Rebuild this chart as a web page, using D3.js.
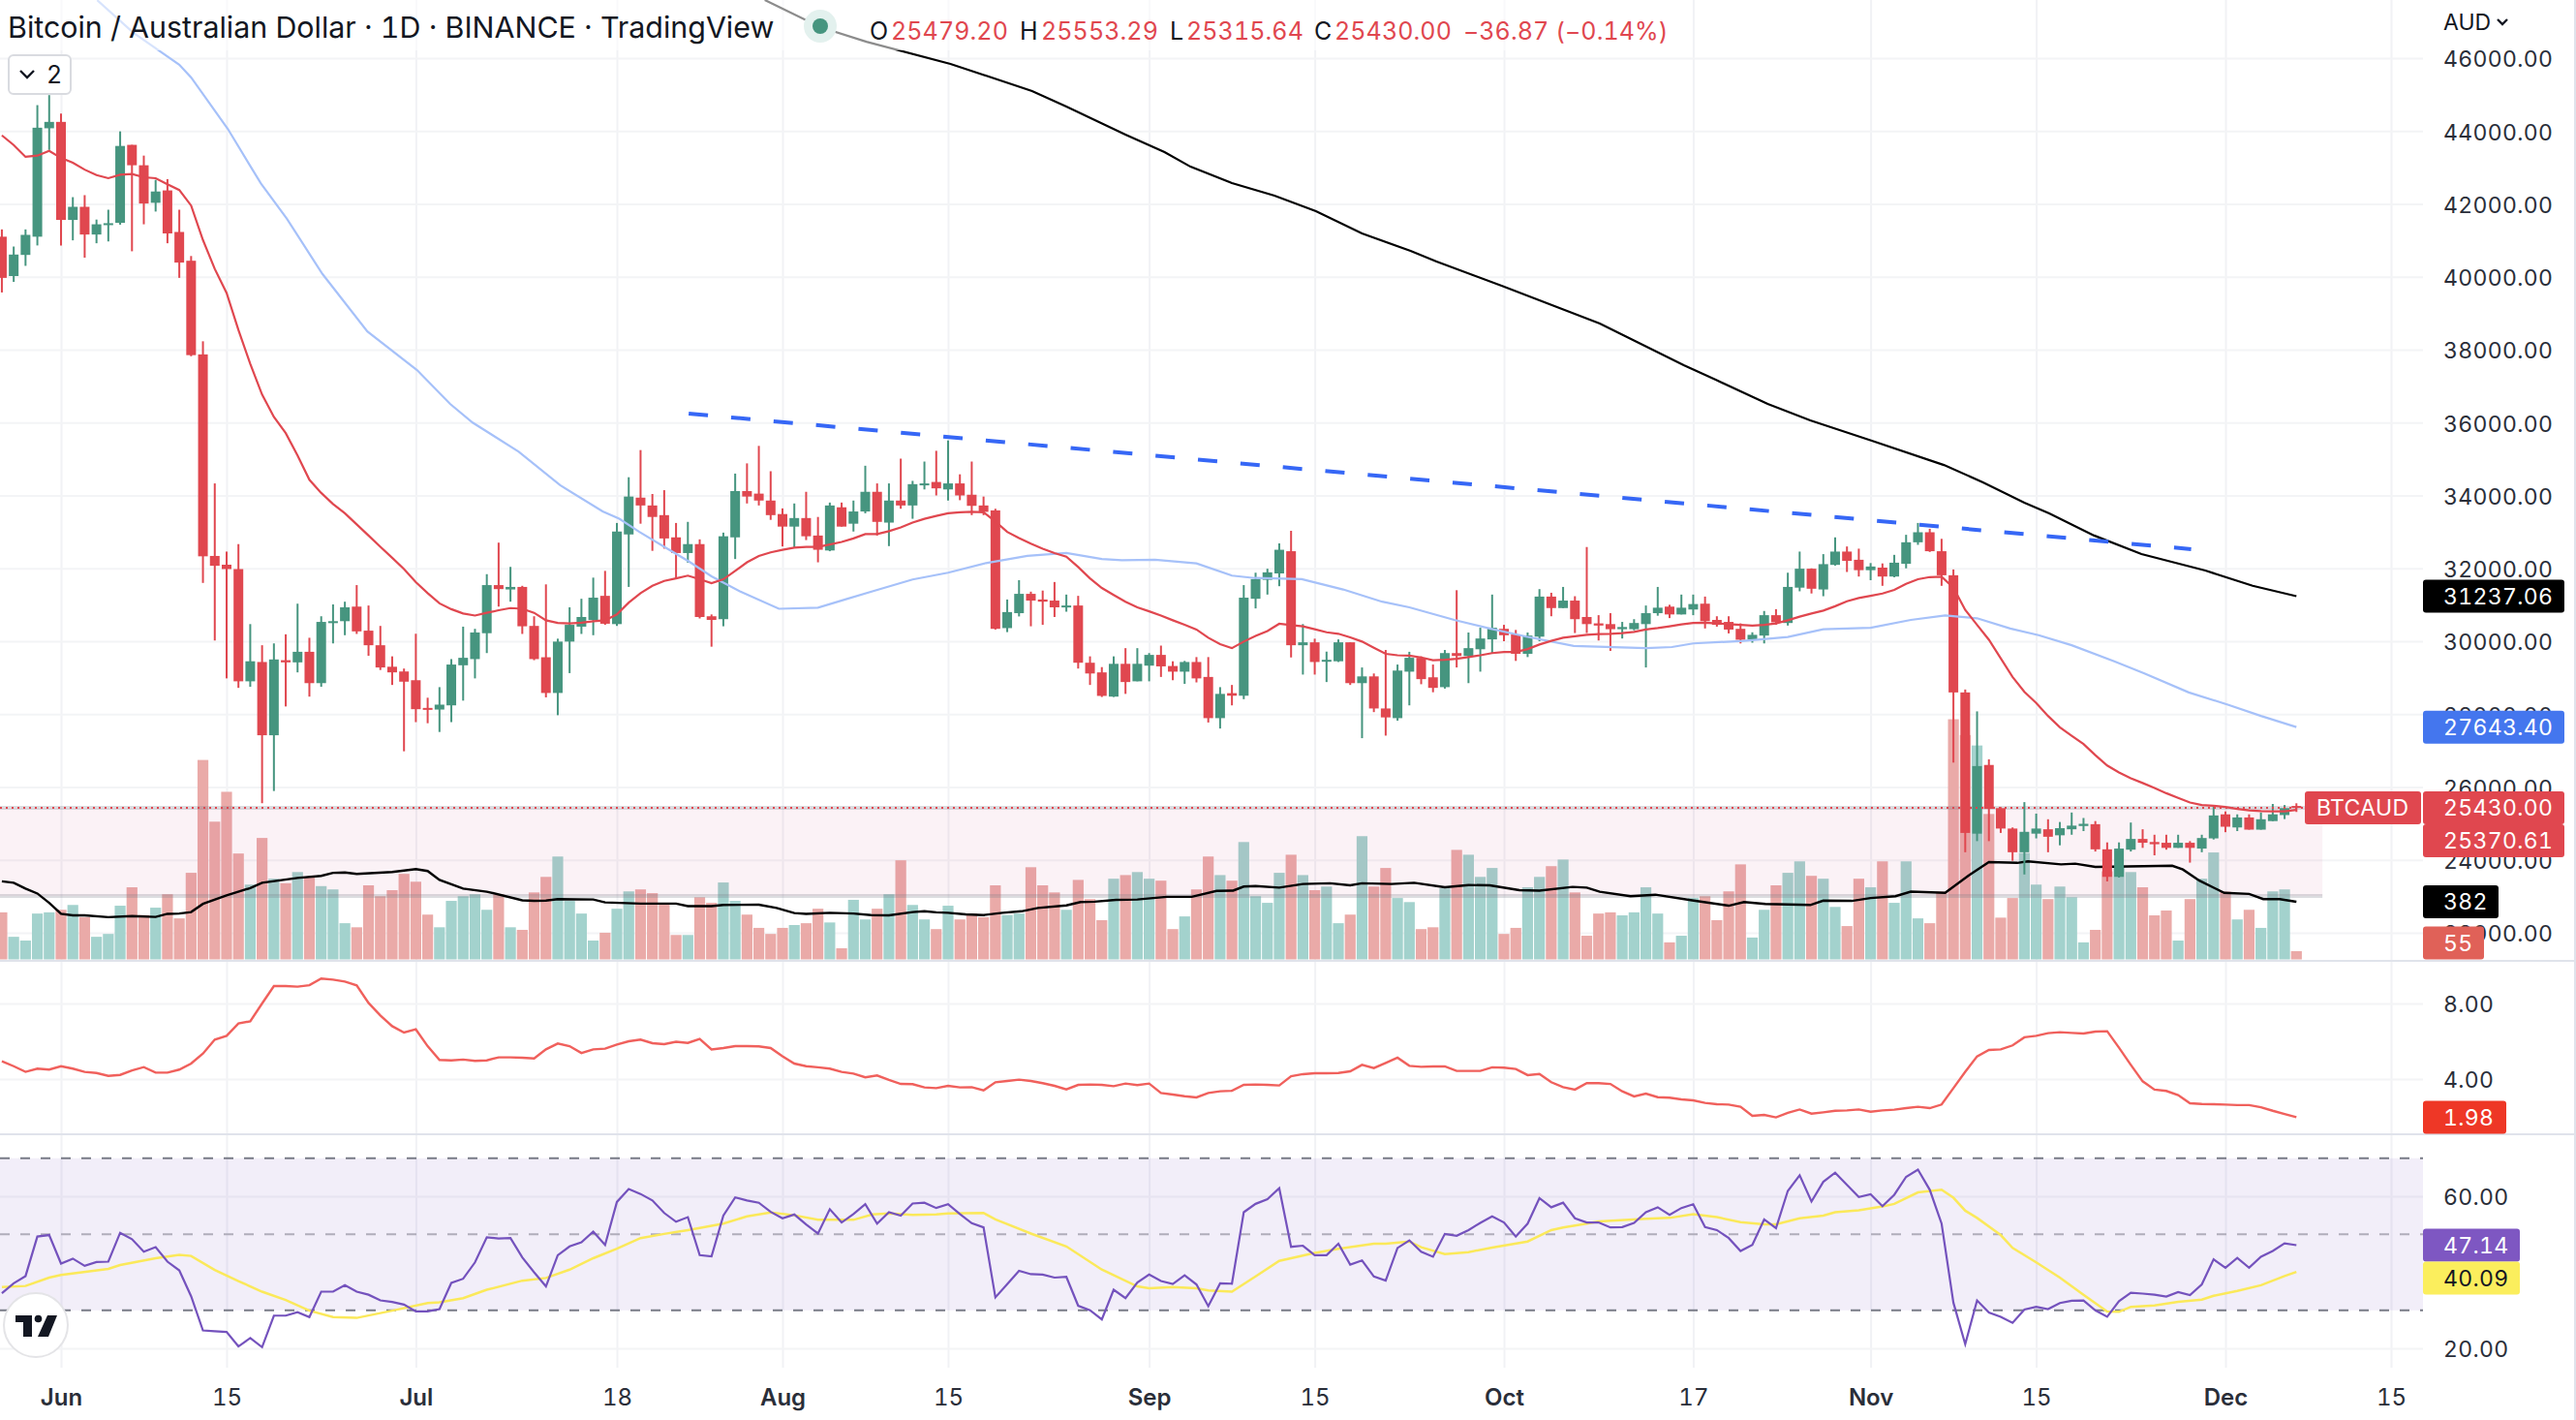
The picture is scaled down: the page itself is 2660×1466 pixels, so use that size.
<!DOCTYPE html>
<html>
<head>
<meta charset="utf-8">
<script src="https://cdn.jsdelivr.net/npm/d3@7"></script>
<style>
  html, body { margin: 0; padding: 0; background: #fff; }
  svg { display: block; font-family: Inter, "Liberation Sans", sans-serif; font-variant-numeric: tabular-nums; }
  .axis text { font-family: Inter, "Liberation Sans", sans-serif; fill: #2a2e39; }
  .axis path { display: none; }
</style>
</head>
<body>
<svg id="chart" width="2660" height="1466"></svg>
<script>
// first candle sits 5 days before 1 Jun, one value per day after that
const firstDay = -5;

const opens = [
  41100,40020,40600,41100,44075,44250,41560,41920,41160,41430,
  41480,43620,43060,42030,42370,41230,40440,37870,32340,32100,
  31980,28900,29430,27420,29480,29420,29710,28850,30500,30550,
  30950,30290,29890,29300,29170,28930,28170,28125,28240,29340,
  29510,30220,31540,31420,31490,30420,29560,28580,29990,30400,
  30585,31245,30470,32930,33940,33725,33460,32850,32420,32665,
  30685,30605,32850,34120,34050,33860,33490,33145,33380,32900,
  32490,33675,33225,33560,34100,33255,33860,33725,34290,34370,
  34165,34330,34020,33725,33590,30360,30770,31300,31145,31115,
  30930,30980,29410,29145,28480,29380,28900,29330,29625,29320,
  29165,29430,29020,27890,28575,28505,31165,31685,31860,32470,
  29890,29970,29440,29450,29970,28850,29035,28155,27890,29165,
  29545,29010,28740,29675,29595,29780,30050,30340,30185,29655,
  30125,31225,30910,31115,30665,30490,30470,30330,30330,30470,
  30770,30950,30735,30870,31030,30585,30530,30340,30040,30155,
  30715,30500,31470,31990,31420,32095,32460,32235,31950,32020,
  31775,32125,32715,32990,32470,31810,28595,24720,26605,25420,
  24860,24210,24720,24840,24675,24840,24930,24980,24290,23535,
  24280,24575,24490,24470,24330,24470,24310,24590,25250,24890,
  25165,24830,25065,25230,25479.2
];
const closes = [
  39970,40610,41150,44090,44250,41560,41920,41160,41440,41470,
  43590,43060,42010,42340,41190,40390,37850,32330,32070,31980,
  28900,29450,27420,29500,29420,29710,28850,30530,30550,30930,
  30270,29890,29280,29145,28890,28135,28120,28260,29360,29545,
  30240,31540,31430,31490,30410,29510,28580,29990,30450,30665,
  31195,30480,33010,33970,33725,33410,32820,32420,32665,30665,
  30585,32880,34120,33970,33860,33460,33145,33380,32880,32510,
  33725,33145,33560,34100,33275,33860,33725,34310,34330,34195,
  34330,34000,33715,33550,30340,30800,31300,31115,31085,30930,
  30980,29410,29115,28500,29380,28880,29380,29625,29310,29165,
  29430,28980,27890,28555,28505,31195,31705,31890,32510,29890,
  29970,29430,29490,29970,28850,29035,28155,27910,29195,29545,
  28960,28720,29675,29595,29810,30075,30370,30165,29655,30155,
  31225,30910,31115,30605,30470,30430,30330,30390,30500,30770,
  30920,30735,30920,31020,30550,30450,30320,30040,30175,30715,
  30520,31490,31990,31440,32115,32460,32205,31950,32050,31775,
  32155,32715,32990,32470,31810,28595,24740,26575,25400,24860,
  24210,24770,24860,24635,24870,24940,24990,24290,23535,24310,
  24575,24470,24430,24330,24470,24330,24600,25220,24910,25165,
  24830,25115,25250,25420,25430
];
const highs = [
  41300,40830,41300,44710,44985,44480,42185,42240,41570,41840,
  43990,43620,43325,42660,42680,41840,40570,38230,34330,32460,
  32665,30470,29890,29940,30190,31030,30095,30685,31010,31085,
  31540,30980,30420,29585,29250,30205,28450,28740,29510,30400,
  30340,31840,32705,32040,31520,30685,31560,30070,30930,31165,
  31745,31930,33245,34500,35245,34040,34145,33245,33275,32795,
  30735,32980,34600,34880,35360,34665,33645,33780,34100,33410,
  33805,33805,33860,34815,34330,34330,35010,34400,34930,35225,
  35510,34580,34930,33970,33635,31145,31675,31360,31390,31625,
  31280,31245,29585,29290,29585,29810,29810,29675,29880,29450,
  29460,29565,29565,28740,28800,31540,31880,31990,32685,33030,
  30470,30070,29715,30050,29970,29280,29115,29760,29360,29710,
  29585,29360,29760,31400,30240,30370,31280,30450,30310,30240,
  31430,31330,31490,31235,32585,30715,30770,30530,30605,30980,
  31490,31000,31280,31280,31225,30685,30685,30490,30245,30830,
  30880,31880,32460,32000,32390,32850,32600,32540,32145,32135,
  32370,32920,33245,33085,32810,31970,28675,28075,26760,25450,
  24890,25585,25270,25115,25040,25300,25150,25065,24480,24480,
  25025,24840,24690,24690,24690,24515,24690,25505,25330,25250,
  25250,25300,25535,25505,25553.29
];
const lows = [
  39570,39860,40300,40860,43480,40860,41000,40525,40920,40970,
  41430,40700,41440,41790,40920,39970,37820,31600,30020,28980,
  28720,28750,25555,25890,28210,29145,28480,28750,29940,30165,
  30200,29600,29210,28800,26980,27780,27750,27510,27780,28370,
  28980,29675,30950,31085,30200,29480,28460,27970,29125,30200,
  30165,30450,30420,31490,33225,32480,32540,31725,32155,30625,
  29850,30410,32255,33780,33725,33330,32600,32560,32775,32165,
  32470,33145,33010,33510,32900,32610,33635,33360,34165,34000,
  33860,33870,33460,33460,30320,30250,30680,30410,30450,30665,
  30810,29250,28800,28470,28470,28555,28900,28900,29020,28930,
  28830,28870,27770,27605,28240,28410,30900,31280,31510,29555,
  29085,29085,28880,29430,28800,27340,28055,27410,27820,28240,
  28820,28600,28700,29280,28850,29165,29675,30000,29460,29565,
  30000,30685,30910,30225,30225,30020,29735,30075,30300,29280,
  30700,30635,30735,30715,30350,30400,30215,29940,29960,29940,
  30450,30430,31370,31310,31235,32075,31900,31775,31675,31520,
  31755,32000,32645,32450,31520,26670,24210,24515,24515,24740,
  23975,23600,24590,24210,24400,24690,24790,24230,23410,23515,
  24230,24330,24125,24280,24330,23925,24210,24560,24760,24790,
  24830,24830,25065,25120,25315.64
];
const volumes = [
  312,150,125,304,312,329,361,280,150,169,
  356,478,294,343,432,272,574,1322,913,1111,
  702,496,805,535,505,579,542,486,464,240,
  213,491,419,459,567,515,297,213,388,419,
  432,329,432,213,196,444,547,682,388,304,
  125,177,336,451,464,439,365,162,162,412,
  375,510,388,297,209,169,209,228,240,336,
  245,74,395,265,336,432,657,361,265,201,
  356,265,304,280,491,294,304,611,491,444,
  329,527,400,260,535,559,579,535,522,201,
  285,464,682,559,522,778,419,375,574,694,
  559,459,483,240,297,817,483,606,407,380,
  201,213,471,726,694,547,606,169,209,478,
  547,618,662,444,157,304,312,292,312,478,
  304,113,157,407,419,260,451,630,145,329,
  491,574,650,554,535,348,221,535,478,650,
  375,650,272,240,449,1592,1487,1418,964,277,
  407,706,496,400,483,412,113,196,584,621,
  579,478,292,324,125,400,535,709,449,265,
  329,209,451,464,55
];
const redMa = [
  43880,43615,43290,43325,43455,43260,43130,42940,42790,42705,
  42800,42820,42730,42705,42540,42380,41955,41010,40215,39555,
  38540,37610,36770,36155,35710,35095,34430,34070,33765,33510,
  33205,32900,32590,32290,31980,31620,31320,31040,30880,30760,
  30705,30780,30850,30910,30890,30780,30575,30500,30490,30510,
  30550,30575,30735,31060,31320,31520,31655,31725,31800,31700,
  31595,31700,31930,32165,32340,32440,32510,32570,32590,32590,
  32655,32725,32820,32940,32940,33020,33125,33255,33360,33440,
  33510,33540,33550,33540,33285,33000,32830,32675,32540,32420,
  32320,32035,31725,31460,31270,31085,30930,30820,30705,30575,
  30450,30320,30095,29920,29810,29990,30145,30280,30480,30440,
  30410,30330,30245,30205,30105,29990,29820,29655,29615,29605,
  29555,29480,29490,29520,29565,29615,29675,29705,29705,29785,
  29910,30010,30095,30135,30175,30195,30205,30225,30255,30320,
  30360,30410,30460,30500,30510,30490,30470,30450,30430,30450,
  30490,30575,30675,30760,30840,30960,31095,31185,31245,31310,
  31410,31575,31700,31760,31770,31470,30860,30450,30040,29530,
  29020,28610,28305,27950,27640,27405,27180,26875,26590,26400,
  26240,26110,25975,25830,25700,25575,25505,25485,25450,25400,
  25360,25340,25330,25330,25370.61
];
const atrValues = [
  4.94,4.68,4.38,4.55,4.50,4.68,4.55,4.38,4.32,4.17,
  4.22,4.46,4.63,4.34,4.34,4.50,4.82,5.35,6.09,6.29,
  6.94,7.06,8.0,8.92,8.92,8.89,8.97,9.32,9.26,9.16,
  8.96,8.03,7.37,6.80,6.46,6.63,5.74,5.01,4.99,5.03,
  4.96,4.99,5.15,5.15,5.13,5.09,5.57,5.88,5.74,5.38,
  5.57,5.61,5.83,6.0,6.09,5.90,5.85,5.97,5.91,6.12,
  5.57,5.64,5.74,5.74,5.73,5.64,5.20,4.82,4.68,4.62,
  4.55,4.38,4.29,4.09,4.19,3.95,3.74,3.73,3.56,3.52,
  3.64,3.56,3.57,3.40,3.83,3.90,3.97,3.90,3.78,3.64,
  3.45,3.69,3.71,3.69,3.62,3.76,3.68,3.76,3.26,3.18,
  3.09,3.03,3.26,3.35,3.38,3.69,3.71,3.69,3.66,4.15,
  4.26,4.31,4.31,4.32,4.41,4.75,4.58,4.85,5.13,4.70,
  4.65,4.67,4.67,4.43,4.43,4.43,4.62,4.60,4.53,4.21,
  4.27,3.83,3.57,3.44,3.79,3.78,3.74,3.35,3.08,3.23,
  3.04,3.01,2.92,2.87,2.74,2.67,2.65,2.53,2.05,2.10,
  1.97,2.21,2.39,2.17,2.24,2.32,2.34,2.39,2.27,2.34,
  2.38,2.46,2.53,2.46,2.65,3.52,4.38,5.20,5.54,5.57,
  5.78,6.21,6.29,6.43,6.48,6.44,6.41,6.51,6.53,5.66,
  4.75,3.88,3.44,3.37,3.15,2.72,2.68,2.67,2.65,2.62,
  2.62,2.51,2.32,2.15,1.98
];
const rsiValues = [
  34.5,37.1,39.0,49.4,49.8,42.3,43.6,41.7,42.7,42.8,
  50.4,48.7,45.4,46.6,42.8,40.5,33.7,24.7,24.5,24.3,
  20.5,22.7,20.3,28.6,28.6,29.5,28.2,34.9,34.9,36.6,
  34.9,34.1,32.6,32.2,31.5,29.7,29.7,30.3,37.2,38.3,
  42.6,49.2,48.9,49.0,43.9,40.0,36.3,44.5,46.8,47.9,
  50.7,47.2,58.5,61.9,60.6,58.9,55.6,53.3,54.5,44.5,
  44.2,54.9,59.7,58.9,58.3,55.9,54.2,55.2,52.6,50.2,
  56.6,53.1,55.3,57.9,52.8,55.8,54.9,58.1,58.3,56.9,
  57.9,55.3,52.9,51.8,33.4,36.9,40.4,39.5,39.4,38.6,
  38.8,31.2,30.0,27.6,35.4,33.2,37.3,39.4,37.7,36.9,
  39.2,36.8,31.1,37.1,37.0,55.8,58.0,59.2,62.1,46.7,
  47.0,44.5,44.5,47.5,42.0,43.1,38.9,37.8,46.4,48.4,
  45.4,44.1,50.1,49.6,51.1,53.0,54.7,53.1,49.4,52.8,
  59.5,57.1,58.3,54.2,53.1,53.1,51.8,51.9,53.0,55.8,
  57.1,55.1,56.9,57.9,51.9,51.1,49.0,45.6,47.2,53.9,
  51.6,61.4,65.5,58.6,63.8,66.2,63.0,59.8,60.5,57.4,
  60.4,65.1,67.0,61.7,52.8,32.0,21.1,32.6,29.4,28.3,
  26.7,30.2,30.9,30.3,31.9,32.5,32.6,30.0,28.3,32.4,
  34.6,34.4,34.1,33.6,34.8,34.0,36.8,43.4,41.2,43.8,
  41.2,44.1,45.6,47.6,47.14
];

// the slow lines were read at their bends: [day, value]
const blueMa = [
  [3.06,47590],[6.1,46700],[10,45820],[11,45470],[14.1,44060],[16.9,42560],[19.1,41590],[22.1,40080],[25.9,38500],
  [30.1,37440],[32.9,36510],[34.8,36000],[38.7,35200],[42.2,34280],[45.8,33560],[47.2,33360],[48.9,33000],[51,32590],
  [53.1,32185],[55,31780],[57.4,31370],[60.7,30890],[64,30920],[66.3,31145],[68.6,31370],[72,31695],[75,31880],
  [78.2,32145],[81.7,32340],[85,32420],[88,32255],[89.7,32225],[92.5,32235],[96,32135],[99,31800],[100.9,31735],
  [104.9,31705],[108.4,31420],[111.7,31085],[114,30930],[117.8,30585],[120.8,30350],[123.9,30125],[127.9,29870],
  [134,29810],[136.2,29840],[138,29940],[142.3,30010],[146,30115],[149,30330],[153,30370],[156.4,30585],[159.3,30705],
  [162,30630],[164.8,30350],[167.2,30165],[170,29890],[173.6,29450],[176.1,29125],[179.9,28595],[183.2,28260],
  [186,27950],[189,27643.4]
];
const blackMa = [
  [59.5,47595],[64.2,46850],[68.1,46450],[75.2,45840],[79.9,45335],[82.1,45095],[85,44670],[90,43900],[93.3,43420],
  [95.5,43020],[99,42570],[102.6,42225],[106.1,41800],[110,41190],[114.1,40710],[116.3,40420],[121.8,39755],
  [130.1,38720],[133.9,38105],[137.2,37575],[139.9,37175],[144.3,36510],[147.9,36060],[153.1,35500],[159.2,34835],
  [162.5,34360],[166,33800],[168.1,33510],[171.9,32900],[175.9,32390],[181.3,31940],[185.3,31520],[189,31237.06]
];
const volumeMa = [
  [-5,518],[-4,508],[-3,469],[-2,437],[-1,375],[0,302],[1,292],[2,292],[4,280],[6,287],[8,282],[9,302],[10,304],[11,314],
  [12,368],[14,424],[16,473],[17,508],[20,540],[22,554],[23,574],[24,576],[25,567],[28,579],[30,599],[31,586],[32,527],
  [34,469],[36,449],[39,392],[40,388],[41,390],[42,400],[45,397],[46,378],[49,370],[52,370],[53,353],[55,353],[56,361],
  [59,363],[60.5,341],[62,307],[63,302],[65,309],[67,304],[68.5,294],[70,292],[72,314],[73,319],[74,312],[75,309],
  [76.5,299],[78,294],[79.6,309],[81.2,319],[82.6,341],[85,358],[86.2,380],[87.4,383],[89.2,395],[91,397],[93.5,415],
  [95.6,415],[97.7,454],[99.1,456],[100,483],[101,486],[103,476],[105,500],[107.3,505],[109,491],[110,505],[112.5,500],
  [114.4,508],[117,478],[119,493],[120.8,491],[123.3,459],[125,456],[127.8,481],[129,476],[130.1,449],[132.7,419],
  [134.8,429],[137.9,392],[141,356],[142.3,380],[144.1,368],[147.9,361],[149,390],[151.4,388],[153,407],[155.1,419],
  [156.4,449],[159.3,441],[161.3,557],[163,645],[165.4,640],[166.3,650],[169.1,630],[170.3,635],[172,613],[176.1,618],
  [178.5,621],[179.4,596],[180.8,522],[182.9,441],[185,434],[186.2,400],[187.6,400],[189,382]
];
const rsiMa = [
  [-5,36.1],[-3,36.4],[-1,38.6],[0,39.3],[4,40.9],[5,41.9],[8,43.7],[10,44.6],[11,44.3],[13,40.6],[15,37.7],[17,34.9],
  [19,32.7],[21,29.9],[23,28.2],[25,28.0],[28,29.9],[31,31.9],[32,32.1],[34,33.2],[36,35.4],[39,37.8],[41,38.5],[43,40.7],
  [45,43.7],[47,46.2],[49,49.0],[51,50.1],[53,51.1],[56,52.8],[58,54.7],[60,55.7],[62,55.0],[64,53.8],[67,53.8],[68.6,55.2],
  [70,55.5],[72,55.1],[74,55.2],[75,55.5],[78,55.6],[79,53.9],[82,50.2],[85,46.8],[88,40.7],[91,36.3],[92,35.8],[94,36.1],
  [96,35.8],[97,35.2],[99,34.9],[101,38.9],[103,43.0],[106,45.1],[108,46.2],[111,47.5],[112,47.5],[114,48.1],[115,46.6],
  [117,44.8],[119,45.3],[121,46.5],[124,48.1],[126,51.1],[127,51.8],[129,52.8],[130,53.4],[134,54.1],[136,54.3],[138,55.3],
  [140,54.5],[142,53.2],[144,52.6],[145,52.6],[147,54.2],[149,54.9],[150,55.8],[152,56.3],[154,57.3],[155,58.0],[157,61.0],
  [159,61.7],[160,59.6],[161,56.2],[162,54.3],[164,49.8],[165,46.4],[167,42.6],[169,38.6],[171,34.1],[173,29.7],[174,29.6],
  [175,30.9],[177,31.3],[179,32.2],[181,32.8],[182,33.8],[184,35.1],[186,36.6],[188,39.0],[189,40.09]
];
const trendLine = [[53.07,36246],[180.1,32526]];

const priceTicks = d3.range(22000, 46001, 2000);
const atrTicks = [4, 8];
const rsiTicks = [20, 60];
const rsiBands = [70, 50, 30];
const timeDays = [0,14,30,47,61,75,92,106,122,138,153,167,183,197];
const timeLabels = ["Jun","15","Jul","18","Aug","15","Sep","15","Oct","17","Nov","15","Dec","15"];

const green = "#46957f", red = "#e0474f";
const plotRight = 2502, axisLabelX = 2523, width = 2660;

const x = d3.scaleLinear().domain([0, 197]).range([63, 2469]);
const yPrice = d3.scaleLinear().domain([46000, 22000]).range([60, 963]);
const yVol = d3.scaleLinear().domain([0, 382]).range([990.5, 931]);
const yAtr = d3.scaleLinear().domain([8, 4]).range([1036, 1114]);
const yRsi = d3.scaleLinear().domain([60, 20]).range([1235, 1392]);

const svg = d3.select("#chart");

svg.append("defs").selectAll("clipPath")
  .data([["pricePane", 0, 992], ["atrPane", 992, 179], ["rsiPane", 1171, 241]])
  .join("clipPath").attr("id", d => d[0])
  .append("rect").attr("x", 0).attr("y", d => d[1]).attr("width", plotRight).attr("height", d => d[2]);

// grid first
const vGrid = svg.append("g").call(d3.axisBottom(x).tickValues(timeDays).tickSize(1412).tickFormat(""));
vGrid.select(".domain").remove();
vGrid.selectAll("line").attr("stroke", "#f1f2f5").attr("stroke-width", 2);

function hGrid(scale, ticks) {
  const g = svg.append("g").call(d3.axisRight(scale).tickValues(ticks).tickSize(plotRight).tickFormat(""));
  g.select(".domain").remove();
  g.selectAll("line").attr("stroke", "#f3f4f6").attr("stroke-width", 2);
}
hGrid(yPrice, priceTicks);
hGrid(yAtr, atrTicks);
hGrid(yRsi, rsiTicks);

// rsi pane
const rsiG = svg.append("g").attr("clip-path", "url(#rsiPane)");
rsiG.append("rect")
  .attr("x", 0).attr("width", plotRight)
  .attr("y", yRsi(rsiBands[0])).attr("height", yRsi(rsiBands[2]) - yRsi(rsiBands[0]))
  .attr("fill", "#7e57c2").attr("opacity", 0.1);
rsiG.selectAll("line.band").data(rsiBands).join("line")
  .attr("x1", 0).attr("x2", plotRight)
  .attr("y1", d => yRsi(d)).attr("y2", d => yRsi(d))
  .attr("stroke", d => d === 50 ? "#b0adba" : "#787b86").attr("stroke-width", 2)
  .attr("stroke-dasharray", "10 11");

const dayLine = (scale) => d3.line().x((v, i) => x(firstDay + i)).y(v => scale(v));
const pairLine = (scale) => d3.line().x(d => x(d[0])).y(d => scale(d[1]));

rsiG.append("path").attr("d", pairLine(yRsi)(rsiMa)).attr("fill", "none").attr("stroke", "#fbe95a").attr("stroke-width", 2.5);
rsiG.append("path").attr("d", dayLine(yRsi)(rsiValues)).attr("fill", "none").attr("stroke", "#7452bd").attr("stroke-width", 2.2);

// atr pane
svg.append("g").attr("clip-path", "url(#atrPane)")
  .append("path").attr("d", dayLine(yAtr)(atrValues))
  .attr("fill", "none").attr("stroke", "#f0605c").attr("stroke-width", 2.4);

// price pane
const priceG = svg.append("g").attr("clip-path", "url(#pricePane)");

priceG.append("g").selectAll("rect").data(volumes).join("rect")
  .attr("x", (v, i) => x(firstDay + i) - 5.6)
  .attr("width", 11.2)
  .attr("y", v => yVol(v))
  .attr("height", v => yVol(0) - yVol(v))
  .attr("fill", (v, i) => closes[i] >= opens[i] ? "#a3d2cd" : "#eaaaa8");

// zone behind the last price
const zoneTop = 25430, zoneBottom = 23010, zoneEndDay = 191.2;
priceG.append("rect")
  .attr("x", 0).attr("width", x(zoneEndDay))
  .attr("y", yPrice(zoneTop)).attr("height", yPrice(zoneBottom) - yPrice(zoneTop))
  .attr("fill", "#b82962").attr("opacity", 0.06);
priceG.selectAll("line.zone").data([zoneTop, zoneBottom]).join("line")
  .attr("x1", 0).attr("x2", x(zoneEndDay))
  .attr("y1", d => yPrice(d)).attr("y2", d => yPrice(d))
  .attr("stroke", "#787b86").attr("stroke-opacity", 0.26).attr("stroke-width", 4);

priceG.append("path").attr("d", pairLine(yVol)(volumeMa)).attr("fill", "none").attr("stroke", "#000").attr("stroke-width", 2.4);

// candles
priceG.append("g").selectAll("line").data(opens).join("line")
  .attr("x1", (v, i) => x(firstDay + i)).attr("x2", (v, i) => x(firstDay + i))
  .attr("y1", (v, i) => yPrice(highs[i])).attr("y2", (v, i) => yPrice(lows[i]))
  .attr("stroke", (v, i) => closes[i] >= opens[i] ? green : red)
  .attr("stroke-width", 2);
priceG.append("g").selectAll("rect").data(opens).join("rect")
  .attr("x", (v, i) => x(firstDay + i) - 5)
  .attr("width", 10)
  .attr("y", (v, i) => yPrice(Math.max(v, closes[i])))
  .attr("height", (v, i) => Math.max(2, Math.abs(yPrice(v) - yPrice(closes[i]))))
  .attr("fill", (v, i) => closes[i] >= opens[i] ? green : red);

priceG.append("path").attr("d", pairLine(yPrice)(blueMa)).attr("fill", "none").attr("stroke", "#a6c1f9").attr("stroke-width", 2.2);
priceG.append("path").attr("d", dayLine(yPrice)(redMa)).attr("fill", "none").attr("stroke", red).attr("stroke-width", 2.2);
priceG.append("path").attr("d", pairLine(yPrice)(blackMa)).attr("fill", "none").attr("stroke", "#000").attr("stroke-width", 2.2);

priceG.append("path").attr("d", pairLine(yPrice)(trendLine))
  .attr("fill", "none").attr("stroke", "#3667f6").attr("stroke-width", 4).attr("stroke-dasharray", "20 24");

priceG.append("line")
  .attr("x1", 0).attr("x2", plotRight)
  .attr("y1", yPrice(zoneTop)).attr("y2", yPrice(zoneTop))
  .attr("stroke", red).attr("stroke-width", 2).attr("stroke-dasharray", "2 4");

// pane separators and right edge
svg.selectAll("line.sep").data([992, 1171]).join("line")
  .attr("x1", 0).attr("x2", width).attr("y1", d => d).attr("y2", d => d)
  .attr("stroke", "#e0e3eb").attr("stroke-width", 2);
svg.append("line").attr("x1", 2659).attr("x2", 2659).attr("y1", 0).attr("y2", 1466)
  .attr("stroke", "#e0e3eb").attr("stroke-width", 2);

// axes
function priceAxis(scale, ticks, digits) {
  const g = svg.append("g").attr("class", "axis").attr("transform", `translate(${axisLabelX},0)`)
    .call(d3.axisRight(scale).tickValues(ticks).tickSize(0).tickPadding(0).tickFormat(d => d.toFixed(digits)));
  g.selectAll("text").attr("font-size", 23).attr("letter-spacing", 0.35).attr("dy", "0.38em");
}
priceAxis(yPrice, priceTicks, 2);
priceAxis(yAtr, atrTicks, 2);
priceAxis(yRsi, rsiTicks, 2);

const timeAxis = svg.append("g").attr("class", "axis").attr("transform", "translate(0,1434)")
  .call(d3.axisBottom(x).tickValues(timeDays).tickSize(0).tickPadding(0).tickFormat((d, i) => timeLabels[i]));
timeAxis.selectAll("text")
  .attr("font-size", 24)
  .attr("font-weight", (d, i) => isNaN(+timeLabels[i]) ? 600 : 400);

// header, washes out what runs beneath it
svg.append("rect").attr("x", 0).attr("y", 0).attr("width", 1730).attr("height", 52).attr("fill", "#fff").attr("opacity", 0.55);
svg.append("text").attr("x", 8).attr("y", 39).attr("font-size", 30.4).attr("fill", "#131722")
  .text("Bitcoin / Australian Dollar · 1D · BINANCE · TradingView");
svg.append("circle").attr("cx", 847).attr("cy", 27).attr("r", 17).attr("fill", "#e3f1ee");
svg.append("circle").attr("cx", 847).attr("cy", 27).attr("r", 8).attr("fill", green);

const ohlcLetters = ["O", "H", "L", "C"];
const ohlcLetterX = [898, 1053, 1208, 1357];
const ohlcNumbers = ["25479.20", "25553.29", "25315.64", "25430.00"];
const ohlcNumberX = [920, 1075, 1225, 1378];
svg.selectAll("text.hl").data(ohlcLetters).join("text").attr("class", "hl")
  .attr("x", (d, i) => ohlcLetterX[i]).attr("y", 41).attr("font-size", 25).attr("fill", "#131722").text(d => d);
svg.selectAll("text.hn").data(ohlcNumbers).join("text").attr("class", "hn")
  .attr("x", (d, i) => ohlcNumberX[i]).attr("y", 41).attr("font-size", 25).attr("letter-spacing", 0.1).attr("fill", red).text(d => d);
svg.append("text").attr("x", 1511).attr("y", 41).attr("font-size", 25).attr("letter-spacing", 0.1).attr("fill", red)
  .text("−36.87 (−0.14%)");

// collapsed indicators button
svg.append("rect").attr("x", 9).attr("y", 57).attr("width", 64).attr("height", 40).attr("rx", 5)
  .attr("fill", "#fff").attr("stroke", "#d9dbe0").attr("stroke-width", 2);
svg.append("path").attr("d", "M21 73 l7 7 l7 -7").attr("fill", "none").attr("stroke", "#131722").attr("stroke-width", 2.4);
svg.append("text").attr("x", 48).attr("y", 86).attr("font-size", 25).attr("fill", "#131722").text("2");

// currency
svg.append("text").attr("x", 2523).attr("y", 31).attr("font-size", 23).attr("fill", "#131722").text("AUD");
svg.append("path").attr("d", "M2579 20 l5 5 l5 -5").attr("fill", "none").attr("stroke", "#131722").attr("stroke-width", 2.4);

// value tags on the axis
function tag(left, right, cy, label, fill, color, textX) {
  svg.append("rect").attr("x", left).attr("y", cy - 17).attr("width", right - left).attr("height", 34)
    .attr("rx", 3).attr("fill", fill);
  svg.append("text").attr("x", textX).attr("y", cy).attr("dy", "0.36em")
    .attr("font-size", 23).attr("letter-spacing", 0.35).attr("fill", color).text(label);
}
tag(plotRight, 2648, yPrice(31237.06), "31237.06", "#000", "#fff", axisLabelX);
tag(plotRight, 2648, yPrice(27643.4), "27643.40", "#4476ee", "#fff", axisLabelX);
tag(2380, 2500, yPrice(25430), "BTCAUD", red, "#fff", 2392);
tag(plotRight, 2648, yPrice(25430), "25430.00", red, "#fff", axisLabelX);
tag(plotRight, 2648, yPrice(25430) + 34, "25370.61", red, "#fff", axisLabelX);
tag(plotRight, 2580, yVol(382), "382", "#000", "#fff", axisLabelX);
tag(plotRight, 2565, yVol(0) - 17, "55", "#e06158", "#fff", axisLabelX);
tag(plotRight, 2588, yAtr(1.98), "1.98", "#ee3726", "#fff", axisLabelX);
tag(plotRight, 2602, yRsi(47.14), "47.14", "#7e57c2", "#fff", axisLabelX);
tag(plotRight, 2602, yRsi(47.14) + 34, "40.09", "#fbee5d", "#131722", axisLabelX);

// logo badge
svg.append("circle").attr("cx", 37).attr("cy", 1368).attr("r", 33).attr("fill", "#fff").attr("stroke", "#e4e4e7").attr("stroke-width", 2);
svg.append("path").attr("d", "M16 1358 H33 V1380 H24 V1365 H16 Z").attr("fill", "#131722");
svg.append("circle").attr("cx", 39.5).attr("cy", 1361.5).attr("r", 3.8).attr("fill", "#131722");
svg.append("path").attr("d", "M49 1358 H59 L50 1380 H39 Z").attr("fill", "#131722");
</script>
</body>
</html>
